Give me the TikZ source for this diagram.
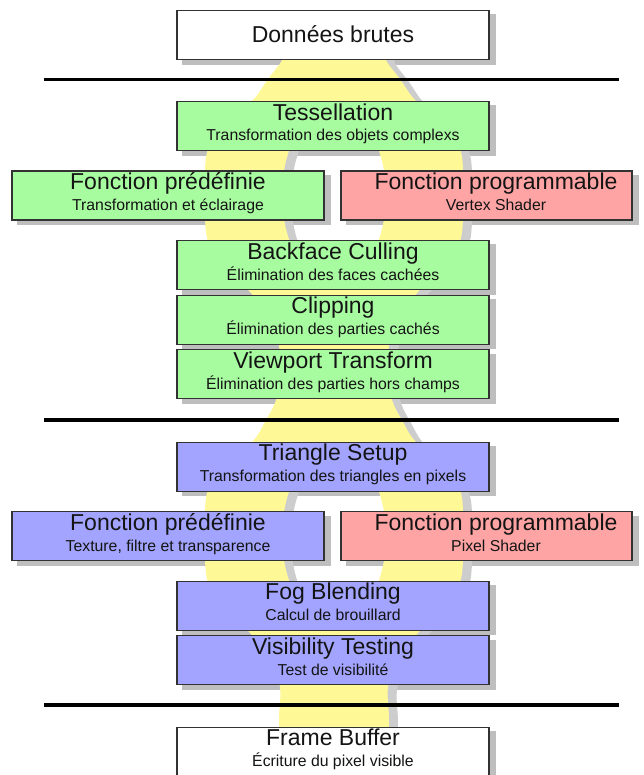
\documentclass[tikz,border=0pt]{standalone}
\usepackage{fontspec}
\setmainfont{Liberation Sans}
\usetikzlibrary{calc}
\pgfdeclarelayer{shadowlayer}
\pgfdeclarelayer{ribbonlayer}
\pgfsetlayers{shadowlayer,ribbonlayer,main}

\definecolor{ribbon}{RGB}{255,248,150}
\definecolor{ribbonshadow}{RGB}{205,205,205}
\definecolor{boxshadow}{RGB}{190,190,190}
\definecolor{stagegreen}{RGB}{168,252,160}
\definecolor{stageblue}{RGB}{162,164,255}
\definecolor{stagered}{RGB}{255,164,164}
\definecolor{stagewhite}{RGB}{255,255,255}
\definecolor{border}{RGB}{50,50,50}
\definecolor{ink}{RGB}{20,20,20}

\tikzset{
  stagebox/.style={draw=border, line width=1.1pt, minimum height=49pt, inner sep=0pt, anchor=north},
  titletext/.style={font=\fontsize{23}{23}\selectfont, text=ink, inner sep=0pt, anchor=base},
  subtext/.style={font=\fontsize{15.8}{16}\selectfont, text=ink, inner sep=0pt, anchor=base},
  separator/.style={line width=3.2pt, black},
}

% #1 name, #2 box centre x, #3 top y, #4 width, #5 fill, #6 text centre x, #7 title, #8 subtitle
\newcommand\stage[8]{%
  \node[stagebox, fill=#5, minimum width=#4pt] (#1) at (#2,#3) {};
  \begin{pgfonlayer}{shadowlayer}
    \fill[boxshadow] ([shift={(6pt,-4.5pt)}]#1.north west) rectangle ([shift={(6pt,-4.5pt)}]#1.south east);
  \end{pgfonlayer}
  \node[titletext] (#1t) at (#6,{#3+19.3}) {#7};
  \node[subtext] (#1s) at (#6,{#3+40}) {#8};
}

\newcommand\ribbonpath{%
  plot[smooth cycle, tension=0.55] coordinates {
    (286,30) (283,45) (282,60) (268,79) (253,100) (224,126) (207,152) (205,195) (207,238)
    (222,266) (250,292) (270,320) (279,346) (280,373) (276,400) (266,420) (253,441)
    (224,467) (207,493) (205,536) (207,579) (222,607) (250,633) (270,661) (280,687)
    (279,720) (281,760) (283,800)
    (385,800) (387,760) (389,720) (388,687) (398,661) (418,633) (446,607) (461,579)
    (463,536) (461,493) (444,467) (415,441) (402,420) (392,400) (388,373) (389,346)
    (398,320) (418,292) (446,266) (461,238) (463,195) (461,152) (444,126) (415,100)
    (400,79) (386,60) (385,45) (382,30)}
  (334,195) ellipse [x radius=52, y radius=88]
  (334,536) ellipse [x radius=52, y radius=88]}

\begin{document}
\begin{tikzpicture}[x=1pt, y=-1pt]
  \useasboundingbox (0,0) rectangle (644,775);

  % yellow ribbon behind the stages
  \begin{pgfonlayer}{ribbonlayer}
    \fill[ribbonshadow, even odd rule, shift={(9pt,-3pt)}] \ribbonpath;
    \fill[ribbon, even odd rule] \ribbonpath;
  \end{pgfonlayer}

  % raw data
  \node[stagebox, fill=stagewhite, minimum width=312pt] (raw) at (333,10) {};
  \begin{pgfonlayer}{shadowlayer}
    \fill[boxshadow] ([shift={(6pt,-4.5pt)}]raw.north west) rectangle ([shift={(6pt,-4.5pt)}]raw.south east);
  \end{pgfonlayer}
  \node[titletext] (rawt) at (333,42.7) {Données brutes};

  % separators
  \coordinate (s1l) at (44,79.3);  \coordinate (s1r) at (619,79.3);
  \coordinate (s2l) at (44,420);   \coordinate (s2r) at (619,420);
  \coordinate (s3l) at (44,705);   \coordinate (s3r) at (619,705);
  \draw[separator] (s1l) -- (s1r);
  \draw[separator] (s2l) -- (s2r);
  \draw[separator] (s3l) -- (s3r);

  % geometry stages
  \stage{tess}{333}{101}{312}{stagegreen}{333}{Tessellation}{Transformation des objets complexs}
  \stage{tlfix}{168}{170.5}{312}{stagegreen}{168}{Fonction prédéfinie}{Transformation et éclairage}
  \stage{tlprog}{486.5}{170.5}{291}{stagered}{496}{Fonction programmable}{Vertex Shader}
  \stage{cull}{333}{240}{312}{stagegreen}{333}{Backface Culling}{Élimination des faces cachées}
  \stage{clip}{333}{294.5}{312}{stagegreen}{333}{Clipping}{Élimination des parties cachés}
  \stage{view}{333}{349}{312}{stagegreen}{333}{Viewport Transform}{Élimination des parties hors champs}

  % rasterisation stages
  \stage{tri}{333}{441.5}{312}{stageblue}{333}{Triangle Setup}{Transformation des triangles en pixels}
  \stage{pxfix}{168}{511}{312}{stageblue}{168}{Fonction prédéfinie}{Texture, filtre et transparence}
  \stage{pxprog}{486.5}{511}{291}{stagered}{496}{Fonction programmable}{Pixel Shader}
  \stage{fog}{333}{580.5}{312}{stageblue}{333}{Fog Blending}{Calcul de brouillard}
  \stage{vis}{333}{635}{312}{stageblue}{333}{Visibility Testing}{Test de visibilité}

  % output
  \stage{frame}{333}{726.5}{312}{stagewhite}{333}{Frame Buffer}{Écriture du pixel visible}
\end{tikzpicture}
\end{document}
